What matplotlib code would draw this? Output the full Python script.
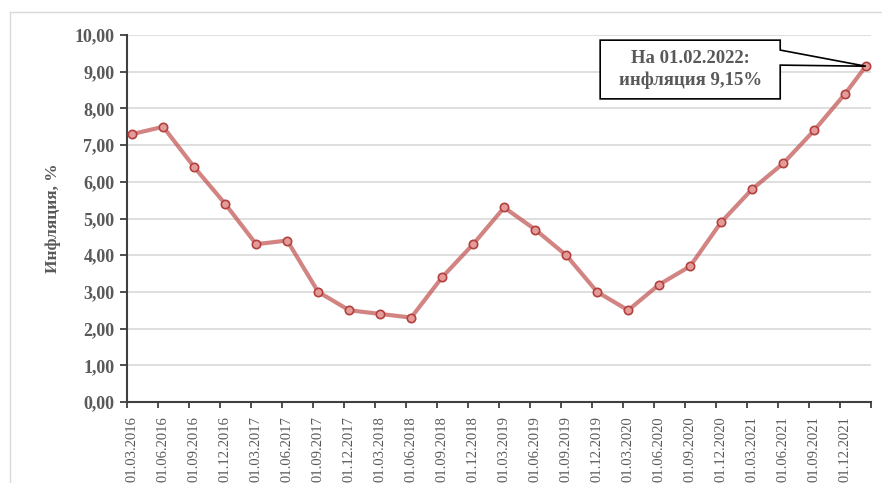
import matplotlib
matplotlib.use("Agg")
import matplotlib.pyplot as plt
from matplotlib.patches import Polygon
from matplotlib.lines import Line2D
import numpy as np

# Даты наблюдений и инфляция, %
dates = ['01.03.2016', '01.06.2016', '01.09.2016', '01.12.2016',
         '01.03.2017', '01.06.2017', '01.09.2017', '01.12.2017',
         '01.03.2018', '01.06.2018', '01.09.2018', '01.12.2018',
         '01.03.2019', '01.06.2019', '01.09.2019', '01.12.2019',
         '01.03.2020', '01.06.2020', '01.09.2020', '01.12.2020',
         '01.03.2021', '01.06.2021', '01.09.2021', '01.12.2021',
         '01.02.2022']
inflation = [7.3, 7.5, 6.4, 5.4, 4.3, 4.4, 3.0, 2.5, 2.4, 2.3, 3.4, 4.3,
             5.3, 4.7, 4.0, 3.0, 2.5, 3.2, 3.7, 4.9, 5.8, 6.5, 7.4, 8.4,
             9.15]
tick_labels = dates[:-1]

# месячная шкала, как у оси дат в Excel
def month_index(d):
    day, m, y = d.split('.')
    return (int(y) - 2016) * 12 + int(m) - 3

x = np.array([month_index(d) for d in dates]) + 0.5

plt.rcParams['font.family'] = ['Liberation Serif', 'DejaVu Serif']
gray = '#595959'

fig = plt.figure(figsize=(8.82, 4.83), dpi=100)
ax = fig.add_axes([0.144, 0.1677, 0.8435, 0.7598])

ax.plot(x, inflation, color='#c0504d', alpha=0.7, linewidth=3, zorder=3)
ax.plot(x, inflation, linestyle='none', marker='o', markersize=6,
        markerfacecolor='#e39c9a', markeredgecolor='#b3403d',
        markeredgewidth=1.2, zorder=4)

ax.set_xlim(0, 72)
ax.set_ylim(0, 10)
ax.set_yticks(np.arange(0, 10.01, 1))
ax.set_yticklabels([f'{v:.2f}'.replace('.', ',') for v in np.arange(0, 10.01, 1)],
                   fontweight='bold', color=gray, fontsize=13)
ax.set_xticks(np.arange(0, 73, 3))
ax.set_xticklabels([])
ax.set_xticks(np.array([month_index(d) for d in tick_labels]) + 0.5, minor=True)
ax.set_xticklabels(tick_labels, minor=True, rotation=90, color=gray, fontsize=10.5)
ax.tick_params(axis='x', which='minor', length=0, pad=10)
ax.tick_params(axis='x', which='major', length=4, width=1.3, color='#404040')
ax.tick_params(axis='y', length=5, width=1.3, color='#404040', pad=4)

ax.grid(axis='y', color='#d9d9d9', linewidth=1.2, zorder=0)
ax.set_axisbelow(True)
for s in ['top', 'right']:
    ax.spines[s].set_visible(False)
for s in ['left', 'bottom']:
    ax.spines[s].set_color('#404040')
    ax.spines[s].set_linewidth(1.5)

ax.set_ylabel('Инфляция, %', fontweight='bold', color=gray, fontsize=12.5, labelpad=10)

# выноска к последней точке
tip = (ax.transData + ax.transAxes.inverted()).transform((x[-1], inflation[-1]))
L, R, T, B = 0.636, 0.878, 0.986, 0.826
callout = Polygon([(L, B), (L, T), (R, T), (R, 0.959), tuple(tip), (R, 0.918), (R, B)],
                  closed=True, transform=ax.transAxes, facecolor='white',
                  edgecolor='black', linewidth=1.2, clip_on=False, zorder=5)
ax.add_patch(callout)
ax.text((L + R) / 2, (T + B) / 2, 'На 01.02.2022:\nинфляция 9,15%',
        transform=ax.transAxes, ha='center', va='center', fontweight='bold',
        color=gray, fontsize=13.5, linespacing=1.3, zorder=6)

# рамка области диаграммы
fig.add_artist(Line2D([10 / 882, 10 / 882], [0, 1 - 12 / 483], color='#d9d9d9', linewidth=1))
fig.add_artist(Line2D([10 / 882, 1], [1 - 12 / 483, 1 - 12 / 483], color='#d9d9d9', linewidth=1))

fig.savefig('out.png', dpi=100)
